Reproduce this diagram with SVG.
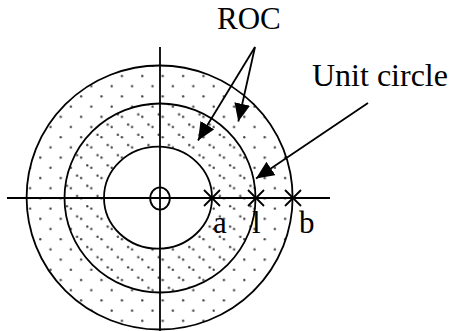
<svg xmlns="http://www.w3.org/2000/svg" width="450" height="331" viewBox="0 0 450 331">
  <style>
    .ln { fill: none; stroke: #000; stroke-width: 1.8; }
    .txt { font-family: "Liberation Serif", "Times New Roman", serif; fill: #000; }
  </style>
  <defs>
    <pattern id="dotsA" patternUnits="userSpaceOnUse" x="157.6" y="70.9" width="20.4" height="20.4">
      <circle cx="5.1" cy="5.1" r="1.2" fill="#444"/>
      <circle cx="15.3" cy="15.3" r="1.2" fill="#444"/>
    </pattern>
    <pattern id="dotsB" patternUnits="userSpaceOnUse" x="184.2" y="139.9" width="20.4" height="20.4">
      <circle cx="5.1" cy="5.1" r="1.2" fill="#444"/>
      <circle cx="15.3" cy="15.3" r="1.2" fill="#444"/>
    </pattern>
    <marker id="arr" viewBox="0 0 18 16" refX="18" refY="8" markerWidth="18" markerHeight="16" markerUnits="userSpaceOnUse" orient="auto">
      <path d="M0,0 L18,8 L0,16 z" fill="#000"/>
    </marker>
  </defs>
  <rect width="450" height="331" fill="#fff"/>

  <g id="outer-circle">
    <ellipse cx="159.6" cy="197.5" rx="133" ry="132" fill="url(#dotsA)" stroke="#000" stroke-width="1.8"/>
  </g>
  <g id="unit-circle">
    <ellipse cx="160" cy="198" rx="95.5" ry="94.5" fill="url(#dotsB)" stroke="#000" stroke-width="1.8"/>
  </g>
  <g id="inner-circle">
    <ellipse cx="158" cy="197.7" rx="54" ry="51" fill="#fff" stroke="#000" stroke-width="1.8"/>
  </g>

  <g id="axes">
    <line class="ln" x1="7" y1="198" x2="330" y2="198"/>
    <line class="ln" x1="160" y1="47" x2="160" y2="331"/>
  </g>

  <g id="zero">
    <ellipse class="ln" cx="160" cy="198.5" rx="9.8" ry="11.2"/>
  </g>
  <g id="pole-a">
    <path class="ln" d="M204,190 L220,206 M204,206 L220,190"/>
  </g>
  <g id="pole-1">
    <path class="ln" d="M248,190 L264,206 M248,206 L264,190"/>
  </g>
  <g id="pole-b">
    <path class="ln" d="M285,190 L301,206 M285,206 L301,190"/>
  </g>

  <g id="labels">
    <text class="txt" x="217" y="29" font-size="31">ROC</text>
    <text class="txt" x="312" y="86" font-size="32">Unit circle</text>
    <text class="txt" x="213" y="233" font-size="31">a</text>
    <text class="txt" x="252" y="233" font-size="31">l</text>
    <text class="txt" x="299" y="233" font-size="31">b</text>
  </g>

  <g id="connectors">
    <line class="ln" x1="255" y1="47" x2="198" y2="140.5" marker-end="url(#arr)"/>
    <line class="ln" x1="255" y1="47" x2="238.3" y2="121.5" marker-end="url(#arr)"/>
    <line class="ln" x1="368" y1="103" x2="256" y2="178.5" marker-end="url(#arr)"/>
  </g>
</svg>
